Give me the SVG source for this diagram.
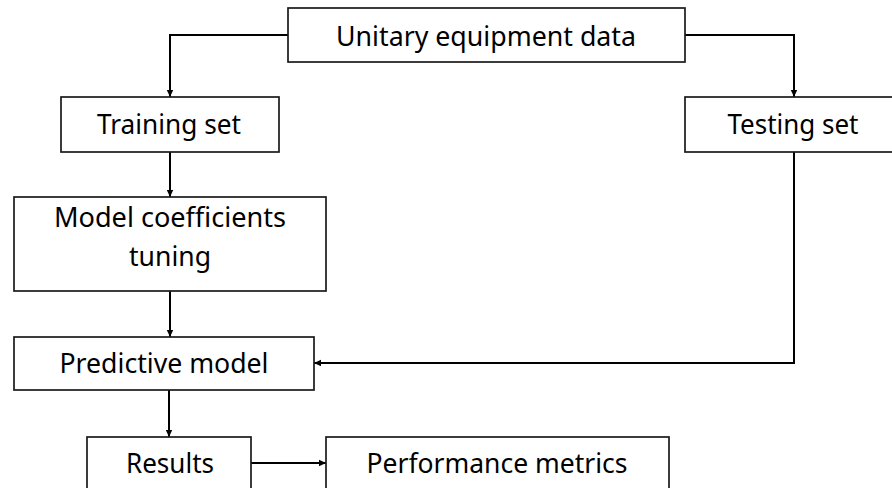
<svg xmlns="http://www.w3.org/2000/svg" width="892" height="488" viewBox="0 0 892 488">
  <style>
    .box { fill: #ffffff; stroke: #1a1a1a; stroke-width: 1.7; }
    .label { font-family: "Noto Sans", "Open Sans", sans-serif; font-size: 27.5px; fill: #000000; text-anchor: middle; }
    .link { fill: none; stroke: #000000; stroke-width: 2; }
  </style>
  <defs>
    <marker id="arrow" markerUnits="userSpaceOnUse" markerWidth="8" markerHeight="8" refX="7" refY="4" orient="auto">
      <path d="M0,0.8 L7,4 L0,7.2 Z" fill="#000000"/>
    </marker>
  </defs>
  <rect width="892" height="488" fill="#ffffff"/>

  <g id="connectors">
    <path class="link" d="M288,35 H170 V97" marker-end="url(#arrow)"/>
    <path class="link" d="M685,35 H794 V97" marker-end="url(#arrow)"/>
    <path class="link" d="M170,152 V197" marker-end="url(#arrow)"/>
    <path class="link" d="M170,291 V337" marker-end="url(#arrow)"/>
    <path class="link" d="M794,152 V363 H314" marker-end="url(#arrow)"/>
    <path class="link" d="M169,390 V437" marker-end="url(#arrow)"/>
    <path class="link" d="M251,463 H326" marker-end="url(#arrow)"/>
  </g>

  <g id="unitary-data">
    <rect class="box" x="288" y="8" width="397" height="54"/>
    <text class="label" x="486" y="46" textLength="300" lengthAdjust="spacingAndGlyphs">Unitary equipment data</text>
  </g>

  <g id="training-set">
    <rect class="box" x="61" y="97" width="218" height="55"/>
    <text class="label" x="169" y="134" textLength="144" lengthAdjust="spacingAndGlyphs">Training set</text>
  </g>

  <g id="testing-set">
    <rect class="box" x="685" y="97" width="215" height="55"/>
    <text class="label" x="793" y="134" textLength="131" lengthAdjust="spacingAndGlyphs">Testing set</text>
  </g>

  <g id="coefficient-tuning">
    <rect class="box" x="14" y="197" width="312" height="94"/>
    <text class="label" x="170" y="227" textLength="232" lengthAdjust="spacingAndGlyphs">Model coefficients</text>
    <text class="label" x="170" y="266" textLength="82" lengthAdjust="spacingAndGlyphs">tuning</text>
  </g>

  <g id="predictive-model">
    <rect class="box" x="14" y="337" width="300" height="53"/>
    <text class="label" x="164" y="373" textLength="209" lengthAdjust="spacingAndGlyphs">Predictive model</text>
  </g>

  <g id="results">
    <rect class="box" x="87" y="437" width="164" height="60"/>
    <text class="label" x="170" y="473" textLength="88" lengthAdjust="spacingAndGlyphs">Results</text>
  </g>

  <g id="performance-metrics">
    <rect class="box" x="326" y="437" width="343" height="60"/>
    <text class="label" x="497" y="473" textLength="261" lengthAdjust="spacingAndGlyphs">Performance metrics</text>
  </g>
</svg>
